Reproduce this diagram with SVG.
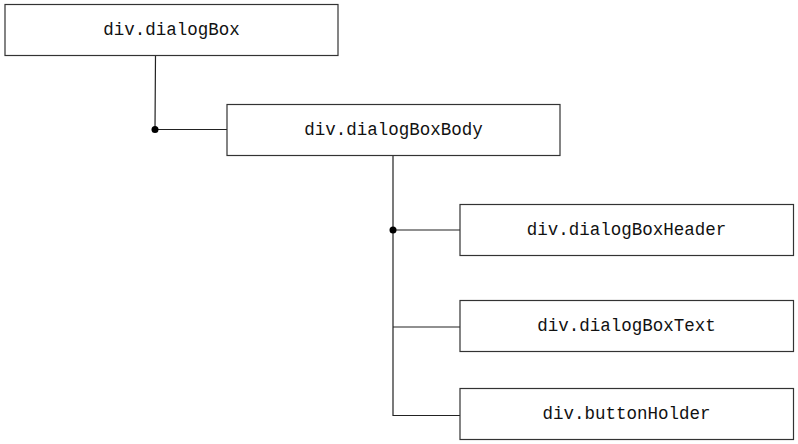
<svg xmlns="http://www.w3.org/2000/svg" width="798" height="444" viewBox="0 0 798 444">
<style>
.box{fill:#fff;stroke:#333;stroke-width:1.2}
.lbl{font-family:"Liberation Mono","Courier New",monospace;font-size:17.5px;fill:#111;text-anchor:middle;dominant-baseline:central}
.ln{fill:none;stroke:#222;stroke-width:1.2}
.dot{fill:#000}
</style>
<rect width="798" height="444" fill="#fff"/>
<g id="connectors">
<path class="ln" d="M155.5 55 L155 129.5 L227 129.5"/>
<circle class="dot" cx="155" cy="129.5" r="3.5"/>
<path class="ln" d="M393 155 L393 415.5 L460 415.5"/>
<path class="ln" d="M393 230 L460 230"/>
<path class="ln" d="M393 327 L460 327"/>
<circle class="dot" cx="393" cy="230" r="3.5"/>
</g>
<g id="dialogBox"><rect class="box" x="5" y="4.5" width="333" height="51"/><text class="lbl" x="171.5" y="30">div.dialogBox</text></g>
<g id="dialogBoxBody"><rect class="box" x="227" y="104.5" width="333" height="51"/><text class="lbl" x="393.5" y="130">div.dialogBoxBody</text></g>
<g id="dialogBoxHeader"><rect class="box" x="460" y="204.5" width="333.5" height="51"/><text class="lbl" x="626.5" y="230">div.dialogBoxHeader</text></g>
<g id="dialogBoxText"><rect class="box" x="460" y="300.5" width="333.5" height="51"/><text class="lbl" x="626.5" y="326">div.dialogBoxText</text></g>
<g id="buttonHolder"><rect class="box" x="460" y="388.5" width="333.5" height="51"/><text class="lbl" x="626.5" y="414">div.buttonHolder</text></g>
</svg>
